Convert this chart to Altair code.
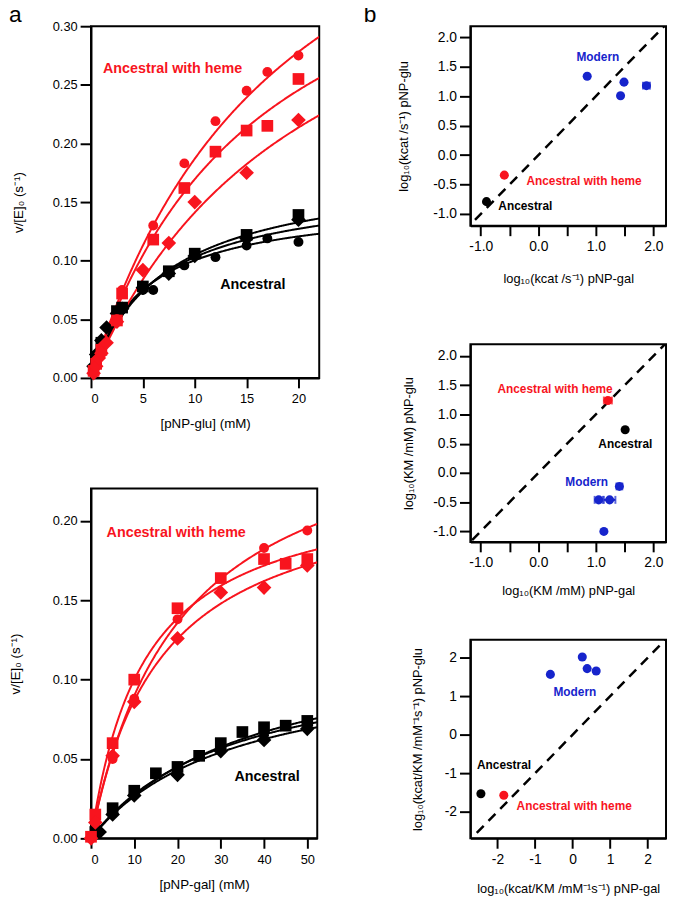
import altair as alt
import numpy as np
import pandas as pd

FONT = "Liberation Sans"
RED = "#f8141e"
BLUE = "#1624cc"
BLACK = "#000000"

# ---------------- panel a, top: pNP-glu ----------------
glu_bc_x = [0.25, 0.5, 1, 2.5, 5, 6, 9, 12, 15, 17, 20]
glu_bc_v = [0.008, 0.015, 0.027, 0.055, 0.075, 0.075, 0.096, 0.103, 0.113, 0.119, 0.116]
glu_bs_x = [0.5, 1, 2.5, 3, 5, 7.5, 10, 15, 20]
glu_bs_v = [0.018, 0.030, 0.057, 0.060, 0.078, 0.091, 0.106, 0.122, 0.139]
glu_bd_x = [0.25, 0.5, 1, 1.5, 2.5, 3, 5, 7.5, 10, 15, 20]
glu_bd_v = [0.010, 0.020, 0.032, 0.043, 0.055, 0.059, 0.077, 0.089, 0.104, 0.119, 0.135]
glu_rc_x = [0.25, 0.5, 1, 2.5, 3, 6, 9, 12, 15, 17, 20]
glu_rc_v = [0.007, 0.014, 0.026, 0.050, 0.075, 0.130, 0.183, 0.219, 0.245, 0.261, 0.275]
glu_rs_x = [0.25, 0.5, 1, 2.5, 3, 6, 9, 12, 15, 17, 20]
glu_rs_v = [0.006, 0.012, 0.024, 0.049, 0.072, 0.118, 0.162, 0.193, 0.211, 0.215, 0.255]
glu_rd_x = [0.25, 0.5, 0.75, 1, 1.5, 2.5, 5, 7.5, 10, 15, 20]
glu_rd_v = [0.004, 0.010, 0.017, 0.021, 0.030, 0.048, 0.092, 0.115, 0.150, 0.175, 0.220]
# Michaelis-Menten fits (Vmax in s^-1, KM in mM), order: black circle/square/diamond, red circle/square/diamond
glu_fit_vmax = [0.1515, 0.1804, 0.1663, 0.543, 0.445, 0.4395]
glu_fit_km = [5.10, 7.18, 6.15, 19.05, 16.26, 21.16]

# ---------------- panel a, bottom: pNP-gal ----------------
gal_bc_x = [1, 5, 10, 20, 30, 40, 50]
gal_bc_v = [0.003, 0.018, 0.029, 0.045, 0.058, 0.065, 0.072]
gal_bs_x = [1, 5, 10, 15, 20, 25, 30, 35, 40, 45, 50]
gal_bs_v = [0.004, 0.019, 0.030, 0.041, 0.045, 0.052, 0.060, 0.067, 0.070, 0.071, 0.074]
gal_bd_x = [2, 5, 10, 20, 30, 40, 50]
gal_bd_v = [0.004, 0.015, 0.027, 0.040, 0.055, 0.062, 0.069]
gal_rc_x = [0, 1, 5, 10, 20, 40, 50]
gal_rc_v = [0.000, 0.012, 0.050, 0.088, 0.138, 0.183, 0.194]
gal_rs_x = [0, 1, 5, 10, 20, 30, 40, 45, 50]
gal_rs_v = [0.001, 0.015, 0.060, 0.100, 0.145, 0.164, 0.176, 0.173, 0.176]
gal_rd_x = [0, 1, 5, 10, 20, 30, 40, 50]
gal_rd_v = [0.000, 0.010, 0.052, 0.086, 0.126, 0.155, 0.158, 0.172]
gal_fit_vmax = [0.1195, 0.131, 0.115, 0.277, 0.226, 0.228]
gal_fit_km = [33.1, 38.2, 33.6, 20.8, 12.6, 16.25]

fit_colors = [BLACK, BLACK, BLACK, RED, RED, RED]

# ---------------- panel b: log10 comparisons ----------------
kcat_modern_x = [0.85, 1.49, 1.43, 1.88]
kcat_modern_y = [1.34, 1.24, 1.01, 1.18]
kcat_modern_xerr = [0.0, 0.0, 0.0, 0.06]
kcat_heme = [-0.59, -0.34]
kcat_anc = [-0.90, -0.79]

km_modern_x = [1.41, 1.24, 1.05, 1.14]
km_modern_y = [-0.23, -0.46, -0.46, -1.00]
km_modern_xerr = [0.05, 0.10, 0.07, 0.0]
km_heme = [1.21, 1.24]
km_heme_xerr = 0.07
km_anc = [1.51, 0.74]

eff_modern_x = [-0.59, 0.26, 0.39, 0.63]
eff_modern_y = [1.57, 2.02, 1.72, 1.66]
eff_heme = [-1.83, -1.57]
eff_anc = [-2.44, -1.53]

SIZES = {"circle": 100, "square": 140, "diamond": 220}
LETTER_Y = -4


def kinetics_panel(point_sets, vmax, km, xmax, ymax, width, height, xvals, yvals,
                   xtitle, ytitle_x, xtitle_y, labels, letter=None):
    rows = []
    for xs, vs, color, shape in point_sets:
        for x, v in zip(xs, vs):
            rows.append({"x": x, "v": v, "color": color, "shape": shape, "size": SIZES[shape]})
    pdf = pd.DataFrame(rows)
    crow = []
    grid = np.linspace(0, xmax, 300)
    for i, (V, K, c) in enumerate(zip(vmax, km, fit_colors)):
        for x in grid:
            crow.append({"x": float(x), "v": V * x / (K + x), "color": c, "id": i})
    cdf = pd.DataFrame(crow)

    X = alt.X("x:Q", scale=alt.Scale(domain=[0, xmax], nice=False, zero=False),
              axis=alt.Axis(values=xvals, title=xtitle, tickSize=10, labelPadding=5,
                            labelFontSize=13, titleFontSize=13.5,
                            titleX=width / 2, titleY=xtitle_y, titleAlign="center",
                            titleBaseline="middle"))
    Y = alt.Y("v:Q", scale=alt.Scale(domain=[0, ymax], nice=False),
              axis=alt.Axis(values=yvals, format=".2f", title="v/[E]₀ (s⁻¹)", tickSize=11,
                            labelPadding=3, labelFontSize=13, titleFontSize=13.5,
                            titleX=ytitle_x, titleY=height / 2, titleAngle=270,
                            titleAlign="center", titleBaseline="middle"))
    lines = alt.Chart(cdf).mark_line(strokeWidth=2, clip=True).encode(
        x=X, y=Y, color=alt.Color("color:N", scale=None), detail="id:N")
    pts = alt.Chart(pdf).mark_point(filled=True, opacity=1, strokeWidth=0).encode(
        x=X, y=Y, color=alt.Color("color:N", scale=None),
        shape=alt.Shape("shape:N", scale=None), size=alt.Size("size:Q", scale=None))
    ldf = pd.DataFrame(labels, columns=["x", "v", "text", "color"])
    txt = alt.Chart(ldf).mark_text(font=FONT, fontSize=14.5, fontWeight="bold",
                                   align="center", baseline="middle").encode(
        x=X, y=Y, text="text:N", color=alt.Color("color:N", scale=None))
    layers = [lines, pts, txt]
    if letter:
        layers.append(alt.Chart(pd.DataFrame({"t": [letter[0]]})).mark_text(
            font=FONT, fontSize=23, align="left", baseline="alphabetic", color="black").encode(
            x=alt.value(letter[1]), y=alt.value(letter[2]), text="t:N"))
    return alt.layer(*layers).properties(width=width, height=height)


def ratio_panel(modern, heme, anc, errs, diag, xdom, ydom, width, height, xvals, xlabel_expr,
                yvals, ylabel_expr, xtitle, ytitle, ytitle_x, xtitle_y, labels, letter=None):
    X = alt.X("x:Q", scale=alt.Scale(domain=xdom, nice=False, zero=False),
              axis=alt.Axis(values=xvals, labelExpr=xlabel_expr, title=xtitle, tickSize=10,
                            labelPadding=4, labelFontSize=14, titleFontSize=13,
                            titleX=width / 2, titleY=xtitle_y, titleAlign="center",
                            titleBaseline="middle"))
    Y = alt.Y("y:Q", scale=alt.Scale(domain=ydom, nice=False, zero=False),
              axis=alt.Axis(values=yvals, labelExpr=ylabel_expr, title=ytitle, tickSize=11,
                            labelPadding=3, labelFontSize=14, titleFontSize=13,
                            titleX=ytitle_x, titleY=height / 2, titleAngle=270,
                            titleAlign="center", titleBaseline="middle"))
    ddf = pd.DataFrame({"x": diag, "y": diag})
    dline = alt.Chart(ddf).mark_line(strokeDash=[10, 7], strokeWidth=2.5, color="black",
                                     clip=True).encode(x=X, y=Y)
    rows = []
    for xs, ys, c in [(modern[0], modern[1], BLUE), ([heme[0]], [heme[1]], RED),
                      ([anc[0]], [anc[1]], BLACK)]:
        for x, y in zip(xs, ys):
            rows.append({"x": x, "y": y, "color": c})
    pdf = pd.DataFrame(rows)
    erows = []
    for x, y, e, c in errs:
        if e > 0:
            erows.append({"x": x - e, "x2": x + e, "y": y, "color": c})
    edf = pd.DataFrame(erows)
    layers = [dline]
    if len(edf):
        layers.append(alt.Chart(edf).mark_rule(strokeWidth=2).encode(
            x=X, x2="x2:Q", y=Y, color=alt.Color("color:N", scale=None)))
        cap = pd.concat([edf[["x", "y", "color"]],
                         edf[["x2", "y", "color"]].rename(columns={"x2": "x"})])
        layers.append(alt.Chart(cap).mark_tick(orient="vertical", size=8, thickness=2).encode(
            x=X, y=Y, color=alt.Color("color:N", scale=None)))
    layers.append(alt.Chart(pdf).mark_point(filled=True, opacity=1, strokeWidth=0, size=84,
                                            shape="circle").encode(
        x=X, y=Y, color=alt.Color("color:N", scale=None)))
    ldf = pd.DataFrame(labels, columns=["x", "y", "text", "color"])
    layers.append(alt.Chart(ldf).mark_text(font=FONT, fontSize=12, fontWeight="bold",
                                           align="center", baseline="middle").encode(
        x=X, y=Y, text="text:N", color=alt.Color("color:N", scale=None)))
    if letter:
        layers.append(alt.Chart(pd.DataFrame({"t": [letter[0]]})).mark_text(
            font=FONT, fontSize=23, align="left", baseline="alphabetic", color="black").encode(
            x=alt.value(letter[1]), y=alt.value(letter[2]), text="t:N"))
    return alt.layer(*layers).properties(width=width, height=height)


glu_sets = [
    (glu_bc_x, glu_bc_v, BLACK, "circle"), (glu_bs_x, glu_bs_v, BLACK, "square"),
    (glu_bd_x, glu_bd_v, BLACK, "diamond"), (glu_rc_x, glu_rc_v, RED, "circle"),
    (glu_rs_x, glu_rs_v, RED, "square"), (glu_rd_x, glu_rd_v, RED, "diamond"),
]
gal_sets = [
    (gal_bc_x, gal_bc_v, BLACK, "circle"), (gal_bs_x, gal_bs_v, BLACK, "square"),
    (gal_bd_x, gal_bd_v, BLACK, "diamond"), (gal_rc_x, gal_rc_v, RED, "circle"),
    (gal_rs_x, gal_rs_v, RED, "square"), (gal_rd_x, gal_rd_v, RED, "diamond"),
]

L1 = kinetics_panel(glu_sets, glu_fit_vmax, glu_fit_km, 22, 0.30, 231, 356,
                    [0, 5, 10, 15, 20], [0, 0.05, 0.10, 0.15, 0.20, 0.25, 0.30],
                    "[pNP-glu] (mM)", -73, 46,
                    [(7.86, 0.2637, "Ancestral with heme", RED),
                     (15.6, 0.0788, "Ancestral", BLACK)],
                    letter=("a", -83, LETTER_Y))
L2 = kinetics_panel(gal_sets, gal_fit_vmax, gal_fit_km, 52.3, 0.2204, 229, 354,
                    [0, 10, 20, 30, 40, 50], [0, 0.05, 0.10, 0.15, 0.20],
                    "[pNP-gal] (mM)", -76, 47,
                    [(19.7, 0.1921, "Ancestral with heme", RED),
                     (40.7, 0.0384, "Ancestral", BLACK)])

half = [-1.0, -0.5, 0.0, 0.5, 1.0, 1.5, 2.0]
x_half_expr = "datum.value % 1 == 0 ? replace(format(datum.value, '.1f'), '\u2212', '-') : ''"
y_half_expr = "replace(format(datum.value, '.1f'), '\u2212', '-')"
int_expr = "replace(format(datum.value, 'd'), '\u2212', '-')"

R1 = ratio_panel((kcat_modern_x, kcat_modern_y), kcat_heme, kcat_anc,
                 [(x, y, e, BLUE) for x, y, e in zip(kcat_modern_x, kcat_modern_y, kcat_modern_xerr)],
                 [-1.1, 2.3], [-1.18, 2.22], [-1.2, 2.19], 198, 202, half, x_half_expr,
                 half, y_half_expr, "log₁₀(kcat /s⁻¹) pNP-gal", "log₁₀(kcat /s⁻¹) pNP-glu", -68, 53,
                 [(1.036, 1.658, "Modern", BLUE), (0.795, -0.44, "Ancestral with heme", RED),
                  (-0.225, -0.86, "Ancestral", BLACK)],
                 letter=("b", -108, LETTER_Y))
R2 = ratio_panel((km_modern_x, km_modern_y), km_heme, km_anc,
                 [(x, y, e, BLUE) for x, y, e in zip(km_modern_x, km_modern_y, km_modern_xerr)]
                 + [(km_heme[0], km_heme[1], km_heme_xerr, RED)],
                 [-1.15, 2.3], [-1.18, 2.22], [-1.18, 2.2], 198, 200, half, x_half_expr,
                 half, y_half_expr, "log₁₀(KM /mM) pNP-gal", "log₁₀(KM /mM) pNP-glu", -63, 49,
                 [(0.291, 1.44, "Ancestral with heme", RED), (1.513, 0.49, "Ancestral", BLACK),
                  (0.842, -0.16, "Modern", BLUE)])
R3 = ratio_panel((eff_modern_x, eff_modern_y), eff_heme, eff_anc, [],
                 [-2.55, 2.6], [-2.72, 2.49], [-2.69, 2.47], 198, 201, [-2, -1, 0, 1, 2],
                 int_expr, [-2, -1, 0, 1, 2], int_expr,
                 "log₁₀(kcat/KM /mM⁻¹s⁻¹) pNP-gal", "log₁₀(kcat/KM /mM⁻¹s⁻¹) pNP-glu", -53, 51,
                 [(0.063, 1.118, "Modern", BLUE), (-1.824, -0.784, "Ancestral", BLACK),
                  (0.045, -1.838, "Ancestral with heme", RED)])

left = alt.vconcat(L1, L2, spacing=112, bounds="flush")
right = alt.vconcat(R1, alt.vconcat(R2, R3, spacing=99, bounds="flush"), spacing=120, bounds="flush")

chart = alt.hconcat(left, right, spacing=384, bounds="flush").properties(
    padding={"top": -10, "left": 0, "right": 0, "bottom": 0}
).configure(font=FONT).configure_view(
    stroke="black", strokeWidth=2
).configure_axis(
    labelFont=FONT, titleFont=FONT, labelColor="black", titleColor="black",
    tickColor="black", domainColor="black", domainWidth=2, tickWidth=2, grid=False,
    titleFontWeight="normal"
)

chart.save("out.html", embed_options={"renderer": "svg", "actions": False})
